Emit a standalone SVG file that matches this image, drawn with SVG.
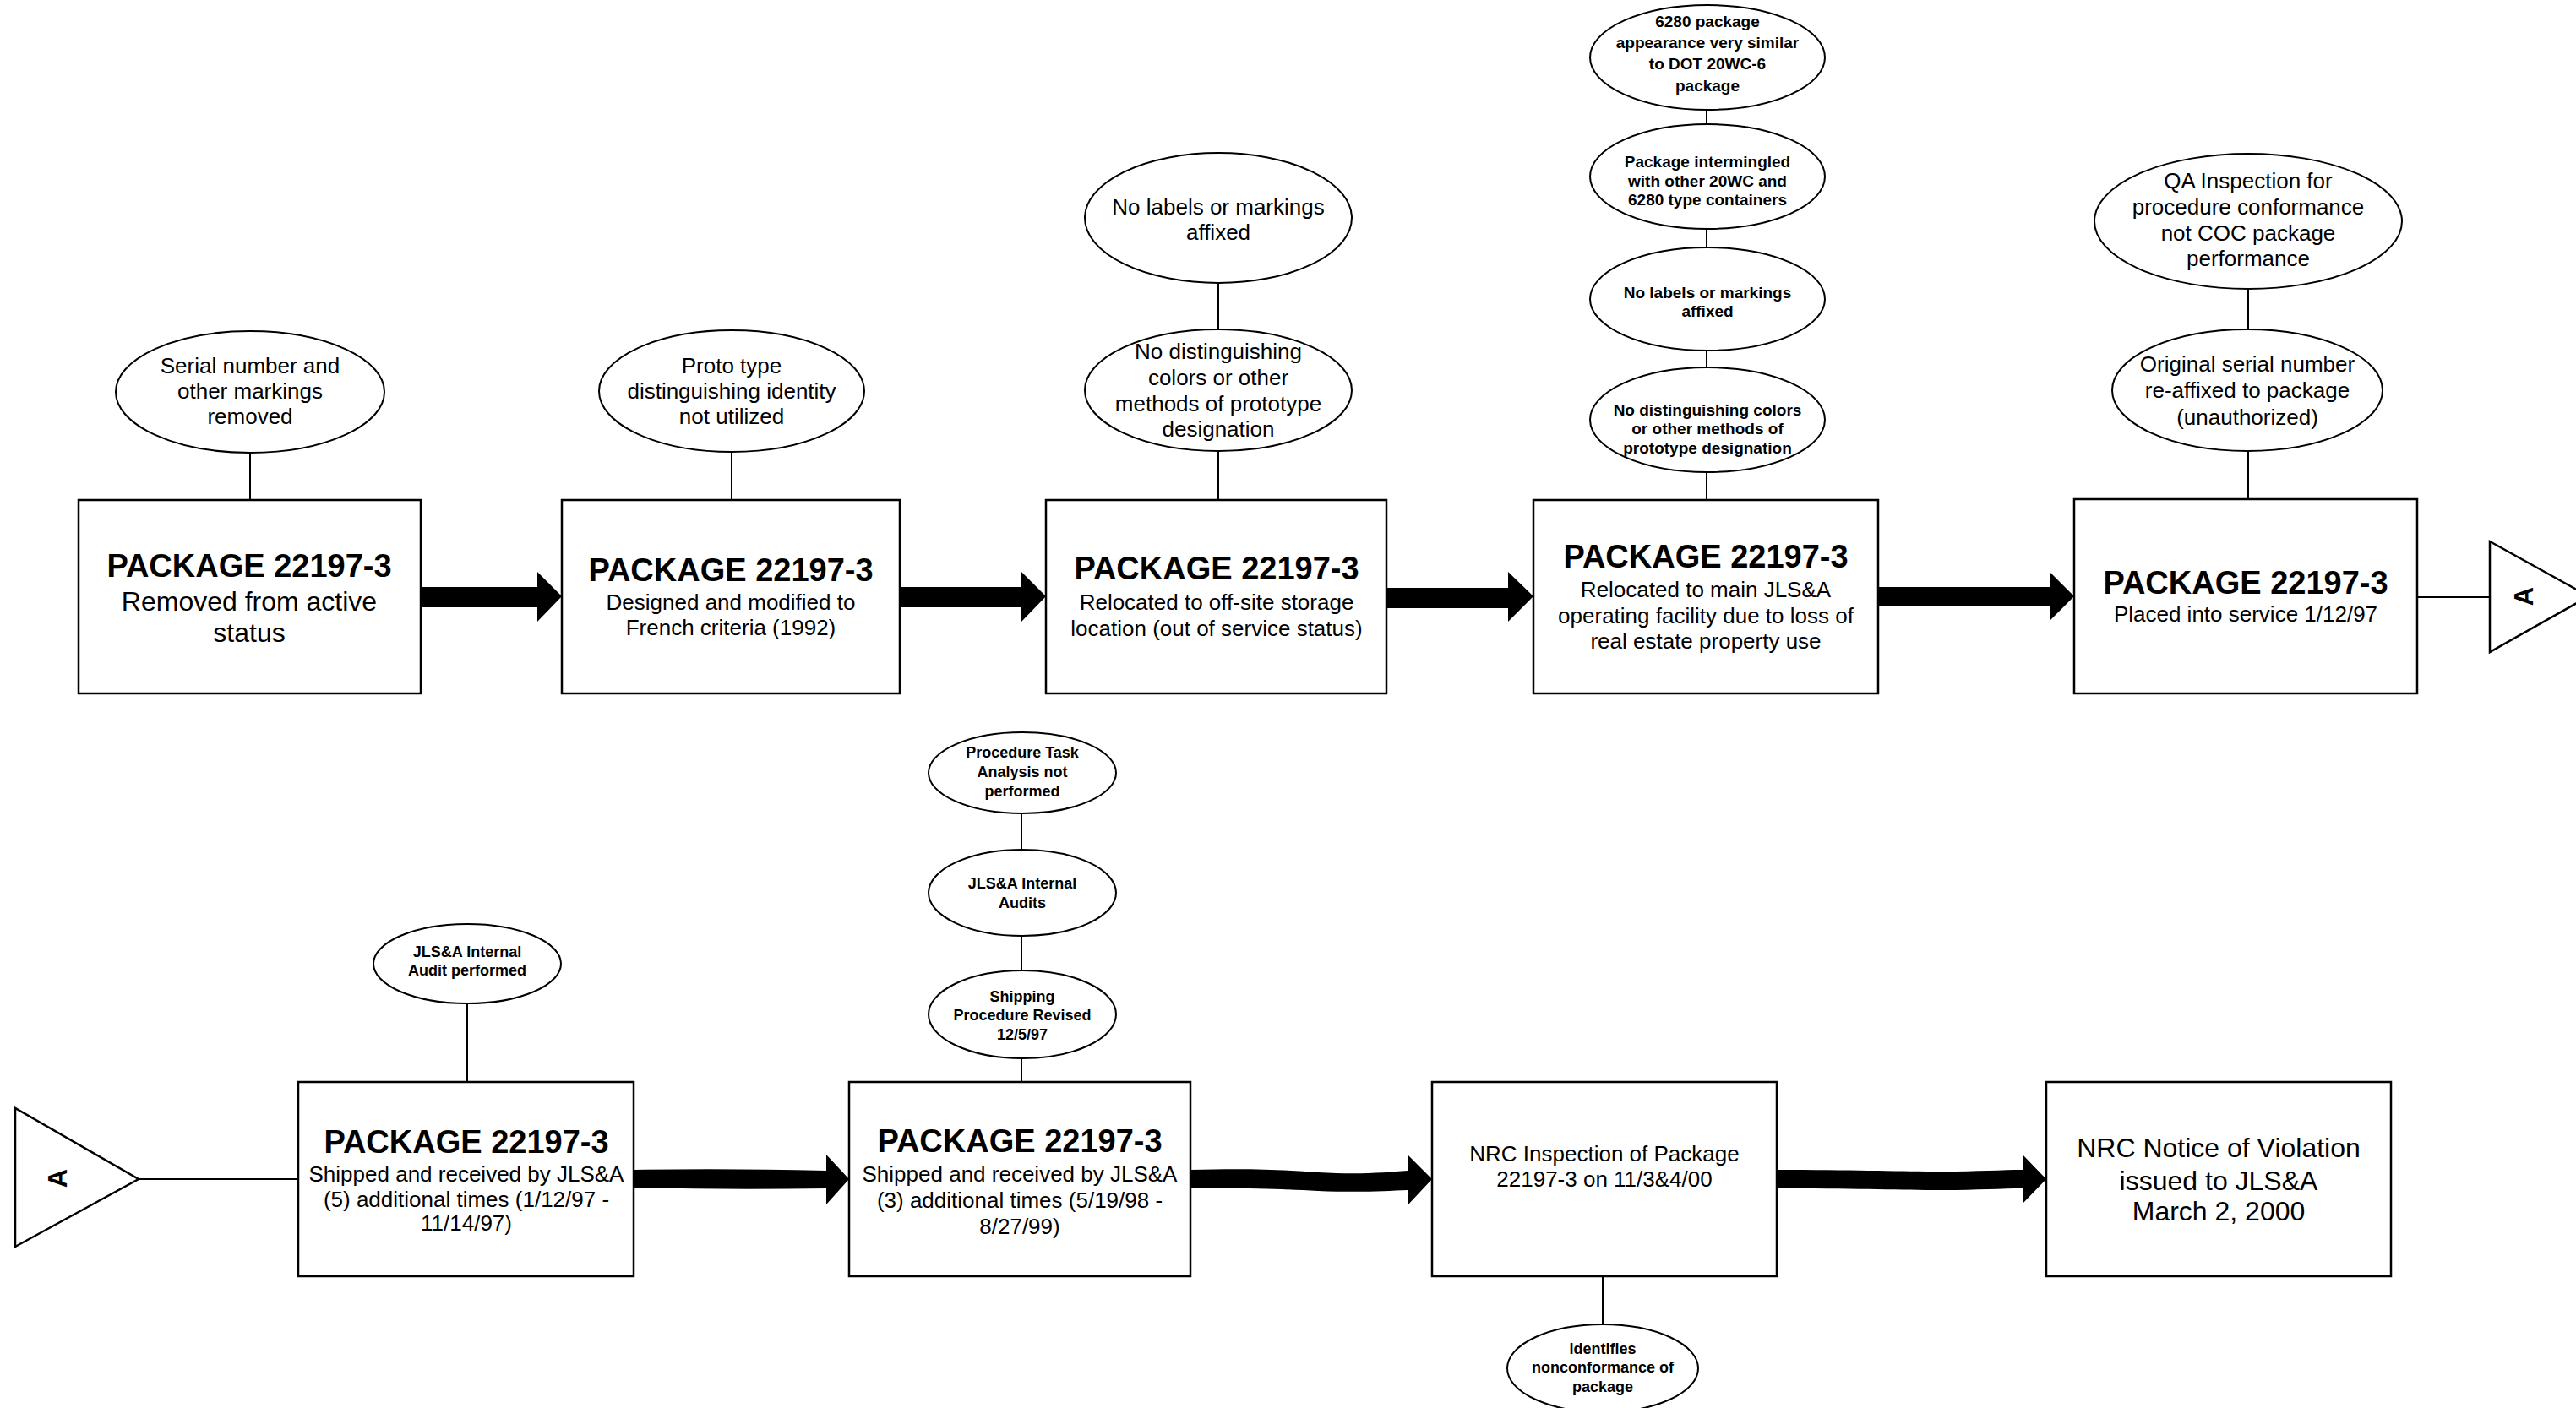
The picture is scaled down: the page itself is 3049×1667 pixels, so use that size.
<svg xmlns="http://www.w3.org/2000/svg" width="3049" height="1667" viewBox="0 0 3049 1667">
<style>
.box{fill:#fff;stroke:#000;stroke-width:2.5}
.ell{fill:#fff;stroke:#000;stroke-width:2}
.ln{stroke:#000;stroke-width:2;fill:none}
.arr{fill:#000;stroke:none}
.tri{fill:#fff;stroke:#000;stroke-width:2.5}
text{font-family:"Liberation Sans",Arial,Helvetica,sans-serif;text-anchor:middle;fill:#000}
.h{font-size:38px;font-weight:bold}
.s{font-size:26px}
.m{font-size:32px}
.e{font-size:26px}
.eb{font-size:19px;font-weight:bold}
.es{font-size:18px;font-weight:bold}
.a{font-size:31px;font-weight:bold}
</style>
<rect width="3049" height="1667" fill="#fff"/>

<g id="connectors">
  <line class="ln" x1="296" y1="536" x2="296" y2="592"/>
  <line class="ln" x1="866" y1="535" x2="866" y2="592"/>
  <line class="ln" x1="1442" y1="335" x2="1442" y2="390"/>
  <line class="ln" x1="1442" y1="534" x2="1442" y2="592"/>
  <line class="ln" x1="2020" y1="130" x2="2020" y2="147"/>
  <line class="ln" x1="2020" y1="271" x2="2020" y2="293"/>
  <line class="ln" x1="2020" y1="415" x2="2020" y2="434"/>
  <line class="ln" x1="2020" y1="559" x2="2020" y2="592"/>
  <line class="ln" x1="2661" y1="342" x2="2661" y2="390"/>
  <line class="ln" x1="2661" y1="534" x2="2661" y2="591"/>
  <line class="ln" x1="2861" y1="707" x2="2957" y2="707"/>
  <line class="ln" x1="164" y1="1396" x2="353" y2="1396"/>
  <line class="ln" x1="553" y1="1188" x2="553" y2="1281"/>
  <line class="ln" x1="1209" y1="963" x2="1209" y2="1006"/>
  <line class="ln" x1="1209" y1="1108" x2="1209" y2="1149"/>
  <line class="ln" x1="1209" y1="1253" x2="1209" y2="1281"/>
  <line class="ln" x1="1897" y1="1511" x2="1897" y2="1568"/>
  <polygon class="arr" points="498,695 636,695 636,677 665,706 636,736 636,719 498,719"/>
  <polygon class="arr" points="1065,695 1209,695 1209,677 1238,706 1209,736 1209,719 1065,719"/>
  <polygon class="arr" points="1641,696 1785,696 1785,677 1815,706 1785,736 1785,720 1641,720"/>
  <polygon class="arr" points="2223,695 2426,695 2426,677 2455,706 2426,735 2426,717 2223,717"/>
  <path class="arr" d="M750,1385 Q860,1383 978,1386 L978,1367 L1005,1396 L978,1426 L978,1407 Q860,1409 750,1406 Z"/>
  <path class="arr" d="M1409,1385 C1480,1383 1520,1385 1560,1388 C1610,1391 1640,1388 1666,1386 L1666,1367 L1695,1396 L1666,1427 L1666,1409 C1640,1410 1610,1412 1560,1410 C1520,1408 1480,1406 1409,1407 Z"/>
  <path class="arr" d="M2103,1385 C2200,1385 2250,1387 2300,1387 C2340,1387 2370,1385 2394,1385 L2394,1367 L2422,1396 L2394,1425 L2394,1407 C2370,1407 2340,1409 2300,1409 C2250,1409 2200,1407 2103,1407 Z"/>
</g>

<g id="box1">
  <rect class="box" x="93" y="592" width="405" height="229"/>
  <text class="h" x="295" y="683">PACKAGE 22197-3</text>
  <text class="m" x="295" y="723">Removed from active</text>
  <text class="m" x="295" y="760">status</text>
</g>
<g id="box2">
  <rect class="box" x="665" y="592" width="400" height="229"/>
  <text class="h" x="865" y="688">PACKAGE 22197-3</text>
  <text class="s" x="865" y="722">Designed and modified to</text>
  <text class="s" x="865" y="752">French criteria (1992)</text>
</g>
<g id="box3">
  <rect class="box" x="1238" y="592" width="403" height="229"/>
  <text class="h" x="1440" y="686">PACKAGE 22197-3</text>
  <text class="s" x="1440" y="722">Relocated to off-site storage</text>
  <text class="s" x="1440" y="753">location (out of service status)</text>
</g>
<g id="box4">
  <rect class="box" x="1815" y="592" width="408" height="229"/>
  <text class="h" x="2019" y="672">PACKAGE 22197-3</text>
  <text class="s" x="2019" y="707">Relocated to main JLS&amp;A</text>
  <text class="s" x="2019" y="738">operating facility due to loss of</text>
  <text class="s" x="2019" y="768">real estate property use</text>
</g>
<g id="box5">
  <rect class="box" x="2455" y="591" width="406" height="230"/>
  <text class="h" x="2658" y="703">PACKAGE 22197-3</text>
  <text class="s" x="2658" y="736">Placed into service 1/12/97</text>
</g>
<g id="connectorA-out">
  <polygon class="tri" points="2947,641 2947,772 3064,706"/>
  <text class="a" transform="translate(2987,706) rotate(-90)" y="11">A</text>
</g>

<g id="note1">
  <ellipse class="ell" cx="296" cy="464" rx="159" ry="72"/>
  <text class="e" x="296" y="442">Serial number and</text>
  <text class="e" x="296" y="472">other markings</text>
  <text class="e" x="296" y="502">removed</text>
</g>
<g id="note2">
  <ellipse class="ell" cx="866" cy="463" rx="157" ry="72"/>
  <text class="e" x="866" y="442">Proto type</text>
  <text class="e" x="866" y="472">distinguishing identity</text>
  <text class="e" x="866" y="502">not utilized</text>
</g>
<g id="note3a">
  <ellipse class="ell" cx="1442" cy="258" rx="158" ry="77"/>
  <text class="e" x="1442" y="254">No labels or markings</text>
  <text class="e" x="1442" y="284">affixed</text>
</g>
<g id="note3b">
  <ellipse class="ell" cx="1442" cy="462" rx="158" ry="72"/>
  <text class="e" x="1442" y="425">No distinguishing</text>
  <text class="e" x="1442" y="456">colors or other</text>
  <text class="e" x="1442" y="487">methods of prototype</text>
  <text class="e" x="1442" y="517">designation</text>
</g>
<g id="note4a">
  <ellipse class="ell" cx="2021" cy="68" rx="139" ry="62"/>
  <text class="eb" x="2021" y="32">6280 package</text>
  <text class="eb" x="2021" y="57">appearance very similar</text>
  <text class="eb" x="2021" y="82">to DOT 20WC-6</text>
  <text class="eb" x="2021" y="108">package</text>
</g>
<g id="note4b">
  <ellipse class="ell" cx="2021" cy="209" rx="139" ry="62"/>
  <text class="eb" x="2021" y="198">Package intermingled</text>
  <text class="eb" x="2021" y="221">with other 20WC and</text>
  <text class="eb" x="2021" y="243">6280 type containers</text>
</g>
<g id="note4c">
  <ellipse class="ell" cx="2021" cy="354" rx="139" ry="61"/>
  <text class="eb" x="2021" y="353">No labels or markings</text>
  <text class="eb" x="2021" y="375">affixed</text>
</g>
<g id="note4d">
  <ellipse class="ell" cx="2021" cy="497" rx="139" ry="62"/>
  <text class="eb" x="2021" y="492">No distinguishing colors</text>
  <text class="eb" x="2021" y="514">or other methods of</text>
  <text class="eb" x="2021" y="537">prototype designation</text>
</g>
<g id="note5a">
  <ellipse class="ell" cx="2661" cy="262" rx="182" ry="80"/>
  <text class="e" x="2661" y="223">QA Inspection for</text>
  <text class="e" x="2661" y="254">procedure conformance</text>
  <text class="e" x="2661" y="285">not COC package</text>
  <text class="e" x="2661" y="315">performance</text>
</g>
<g id="note5b">
  <ellipse class="ell" cx="2660" cy="462" rx="160" ry="72"/>
  <text class="e" x="2660" y="440">Original serial number</text>
  <text class="e" x="2660" y="471">re-affixed to package</text>
  <text class="e" x="2660" y="503">(unauthorized)</text>
</g>

<g id="connectorA-in">
  <polygon class="tri" points="18,1312 18,1476 164,1396"/>
  <text class="a" transform="translate(68,1395) rotate(-90)" y="11">A</text>
</g>
<g id="box6">
  <rect class="box" x="353" y="1281" width="397" height="230"/>
  <text class="h" x="552" y="1365">PACKAGE 22197-3</text>
  <text class="s" x="552" y="1399">Shipped and received by JLS&amp;A</text>
  <text class="s" x="552" y="1429">(5) additional times (1/12/97 -</text>
  <text class="s" x="552" y="1457">11/14/97)</text>
</g>
<g id="box7">
  <rect class="box" x="1005" y="1281" width="404" height="230"/>
  <text class="h" x="1207" y="1364">PACKAGE 22197-3</text>
  <text class="s" x="1207" y="1399">Shipped and received by JLS&amp;A</text>
  <text class="s" x="1207" y="1430">(3) additional times (5/19/98 -</text>
  <text class="s" x="1207" y="1461">8/27/99)</text>
</g>
<g id="box8">
  <rect class="box" x="1695" y="1281" width="408" height="230"/>
  <text class="s" x="1899" y="1375">NRC Inspection of Package</text>
  <text class="s" x="1899" y="1405">22197-3 on 11/3&amp;4/00</text>
</g>
<g id="box9">
  <rect class="box" x="2422" y="1281" width="408" height="230"/>
  <text class="m" x="2626" y="1370">NRC Notice of Violation</text>
  <text class="m" x="2626" y="1409">issued to JLS&amp;A</text>
  <text class="m" x="2626" y="1445">March 2, 2000</text>
</g>
<g id="note6">
  <ellipse class="ell" cx="553" cy="1141" rx="111" ry="47"/>
  <text class="es" x="553" y="1133">JLS&amp;A Internal</text>
  <text class="es" x="553" y="1155">Audit performed</text>
</g>
<g id="note7a">
  <ellipse class="ell" cx="1210" cy="915" rx="111" ry="48"/>
  <text class="es" x="1210" y="897">Procedure Task</text>
  <text class="es" x="1210" y="920">Analysis not</text>
  <text class="es" x="1210" y="943">performed</text>
</g>
<g id="note7b">
  <ellipse class="ell" cx="1210" cy="1057" rx="111" ry="51"/>
  <text class="es" x="1210" y="1052">JLS&amp;A Internal</text>
  <text class="es" x="1210" y="1075">Audits</text>
</g>
<g id="note7c">
  <ellipse class="ell" cx="1210" cy="1201" rx="111" ry="52"/>
  <text class="es" x="1210" y="1186">Shipping</text>
  <text class="es" x="1210" y="1208">Procedure Revised</text>
  <text class="es" x="1210" y="1231">12/5/97</text>
</g>
<g id="note8">
  <ellipse class="ell" cx="1897" cy="1620" rx="113" ry="52"/>
  <text class="es" x="1897" y="1603">Identifies</text>
  <text class="es" x="1897" y="1625">nonconformance of</text>
  <text class="es" x="1897" y="1648">package</text>
</g>
</svg>
